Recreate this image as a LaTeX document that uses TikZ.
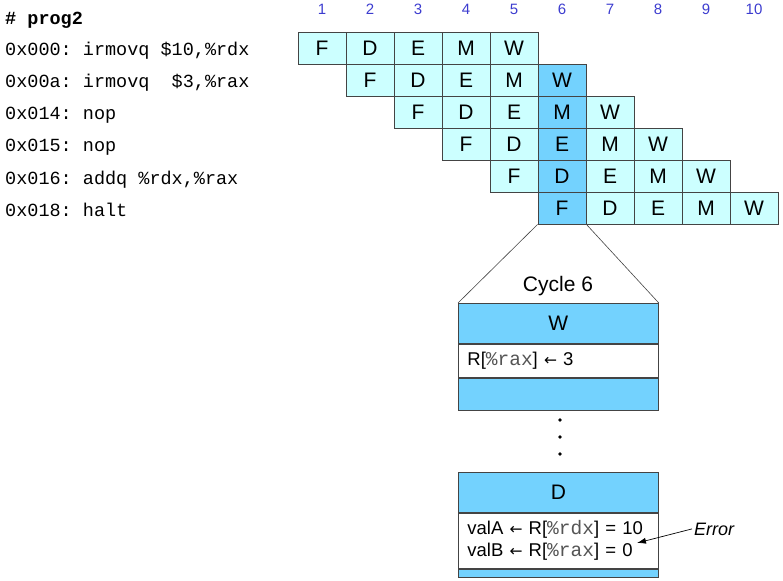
\documentclass[tikz,border=0pt]{standalone}
\usepackage{fontspec}
\setmainfont{Liberation Sans}
\setmonofont{Liberation Mono}
\newfontfamily\arrowfont{DejaVu Sans}
\usepackage{xcolor}
\usetikzlibrary{arrows.meta}
\definecolor{lightcell}{HTML}{CCFFFF}
\definecolor{darkcell}{HTML}{73D2FE}
\definecolor{edgegray}{HTML}{444444}
\definecolor{cyclenum}{HTML}{3C3CCF}
\definecolor{regtext}{HTML}{555555}
\newcommand\regname[1]{{\ttfamily\fontsize{19.5}{19.5}\selectfont\color{regtext}\%#1}}
\newcommand\getsarrow{{\arrowfont\fontsize{15.5}{15.5}\selectfont ←}}

\begin{document}
\begin{tikzpicture}
  [x=1pt,y=-1pt,
   cell/.style={draw=edgegray,line width=0.8pt,fill=lightcell,minimum width=48pt,
     minimum height=32pt,inner sep=0pt,font=\fontsize{21}{21}\selectfont},
   hot/.style={cell,fill=darkcell},
   code/.style={anchor=base west,inner sep=0pt,font=\ttfamily\fontsize{18.5}{18.5}\selectfont},
   num/.style={text=cyclenum,inner sep=0pt,font=\fontsize{15}{15}\selectfont},
   stagebox/.style={draw=edgegray,line width=0.8pt,minimum width=200pt,inner sep=0pt,
     anchor=north west,font=\fontsize{21}{21}\selectfont},
   regbox/.style={stagebox,fill=white,text width=182pt,inner xsep=9pt,align=left,
     font=\fontsize{18.5}{22}\selectfont}]
  \useasboundingbox (0,0) rectangle (783,580);

  % program listing
  \node[code,font=\ttfamily\bfseries\fontsize{18.5}{18.5}\selectfont] (prog) at (5,25) {\# prog2};
  \node[code] (i1) at (5,56)  {0x000: irmovq \$10,\%rdx};
  \node[code] (i2) at (5,88)  {0x00a: irmovq\ \ \$3,\%rax};
  \node[code] (i3) at (5,120) {0x014: nop};
  \node[code] (i4) at (5,152) {0x015: nop};
  \node[code] (i5) at (5,184) {0x016: addq \%rdx,\%rax};
  \node[code] (i6) at (5,216) {0x018: halt};

  % clock cycles
  \foreach \c in {1,...,10}
    \node[num] (cyc\c) at (274+48*\c,9) {\c};

  % pipeline cells
  \foreach \r in {1,...,6}
    \foreach \s [count=\k from 0] in {F,D,E,M,W} {
      \pgfmathtruncatemacro\c{\r+\k}
      \ifnum\c=6 \def\sty{hot}\else\def\sty{cell}\fi
      \node[\sty] (c\r-\c) at (274+48*\c,32*\r+16) {\s};
    }

  % cycle 6 detail
  \node[anchor=base,inner sep=0pt,font=\fontsize{21}{21}\selectfont] (cyclbl) at (558,291) {Cycle 6};
  \node[stagebox,fill=darkcell,minimum height=40pt] (wtop) at (458,303) {W};
  \node[regbox,minimum height=33pt] (wreg) at (wtop.south west) {R[\regname{rax}] \getsarrow{} 3};
  \node[stagebox,fill=darkcell,minimum height=32pt] (wbot) at (wreg.south west) {};

  \node[stagebox,fill=darkcell,minimum height=40pt] (dtop) at (458,472) {D};
  \node[regbox,minimum height=55pt] (dreg) at (dtop.south west)
    {valA \getsarrow{} R[\regname{rdx}] = 10\\valB \getsarrow{} R[\regname{rax}] = 0};
  \node[stagebox,fill=darkcell,minimum height=8pt] (dbot) at (dreg.south west) {};

  \draw[edgegray,line width=0.6pt] (c6-6.south west) -- (wtop.north west);
  \draw[edgegray,line width=0.6pt] (c6-6.south east) -- (wtop.north east);

  \foreach \y in {420,437,454}
    \fill (560,\y) circle (1.8pt);

  \node[anchor=base west,inner sep=2pt,font=\itshape\fontsize{18}{18}\selectfont] (err) at (692,535) {Error};
  \coordinate (errtip) at (637,543);
  \draw[line width=0.7pt,-{Latex[length=9pt,width=6pt]}] (err.west) -- (errtip);
\end{tikzpicture}
\end{document}
